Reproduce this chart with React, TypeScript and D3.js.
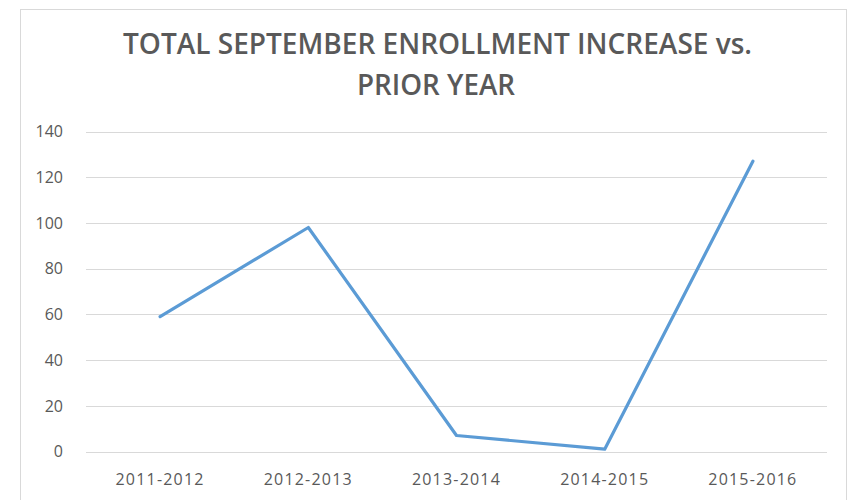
import { useEffect, useRef } from "react";
import * as d3 from "d3";

const seasons = ["2011-2012", "2012-2013", "2013-2014", "2014-2015", "2015-2016"];
const increases = [59, 98, 7, 1, 127];
const yTicks = [0, 20, 40, 60, 80, 100, 120, 140];
const titleLines = ["TOTAL SEPTEMBER ENROLLMENT INCREASE vs.", "PRIOR YEAR"];

const App = () => {
  const ref = useRef<SVGSVGElement>(null);

  useEffect(() => {
    if (!ref.current) return;
    const svg = d3.select(ref.current);
    svg.selectAll("*").remove();

    const width = 855;
    const height = 500;
    const left = 86;
    const right = 827;
    const top = 131.5;
    const bottom = 451.5;
    const textColor = "#595959";

    // chart frame
    svg
      .append("rect")
      .attr("x", 20.5)
      .attr("y", 9.5)
      .attr("width", 826)
      .attr("height", height)
      .attr("fill", "#fff")
      .attr("stroke", "#d9d9d9");

    // title
    const titleWidths = [629, 158];
    svg
      .selectAll(".title")
      .data(titleLines)
      .enter()
      .append("text")
      .attr("class", "title")
      .attr("x", (d, i) => (i === 0 ? 437.5 : 436))
      .attr("y", (d, i) => 54 + i * 41)
      .attr("text-anchor", "middle")
      .attr("font-family", "Open Sans")
      .attr("font-weight", 600)
      .attr("font-size", 28)
      .attr("fill", textColor)
      .attr("textLength", (d, i) => titleWidths[i])
      .attr("lengthAdjust", "spacingAndGlyphs")
      .text((d) => d);

    const x = d3.scaleBand().domain(seasons).range([left, right]).padding(0);
    const y = d3.scaleLinear().domain([0, 140]).range([bottom, top]);

    // gridlines
    svg
      .append("g")
      .selectAll("line")
      .data(yTicks)
      .enter()
      .append("line")
      .attr("x1", left)
      .attr("x2", right)
      .attr("y1", (d) => Math.round(y(d)) + 0.5)
      .attr("y2", (d) => Math.round(y(d)) + 0.5)
      .attr("stroke", "#d9d9d9")
      .attr("stroke-width", 1);

    // y labels
    svg
      .append("g")
      .selectAll("text")
      .data(yTicks)
      .enter()
      .append("text")
      .attr("x", 63)
      .attr("y", (d) => y(d))
      .attr("dy", "0.36em")
      .attr("text-anchor", "end")
      .attr("font-family", "Open Sans")
      .attr("font-size", 16)
      .attr("fill", textColor)
      .text((d) => d);

    // x labels
    svg
      .append("g")
      .selectAll("text")
      .data(seasons)
      .enter()
      .append("text")
      .attr("x", (d) => x(d)! + x.bandwidth() / 2)
      .attr("y", 485)
      .attr("text-anchor", "middle")
      .attr("font-family", "Open Sans")
      .attr("font-size", 16)
      .attr("letter-spacing", 1.2)
      .attr("fill", textColor)
      .text((d) => d);

    // line
    const line = d3
      .line<number>()
      .x((d, i) => x(seasons[i])! + x.bandwidth() / 2)
      .y((d) => y(d));

    svg
      .append("path")
      .datum(increases)
      .attr("d", line)
      .attr("fill", "none")
      .attr("stroke", "#5b9bd5")
      .attr("stroke-width", 3.2)
      .attr("stroke-linejoin", "round")
      .attr("stroke-linecap", "round");

    svg.attr("width", width).attr("height", height);
  }, []);

  return (
    <svg
      ref={ref}
      width={855}
      height={500}
      style={{ position: "absolute", left: 0, top: 0, background: "#fff" }}
    />
  );
};

export default App;
